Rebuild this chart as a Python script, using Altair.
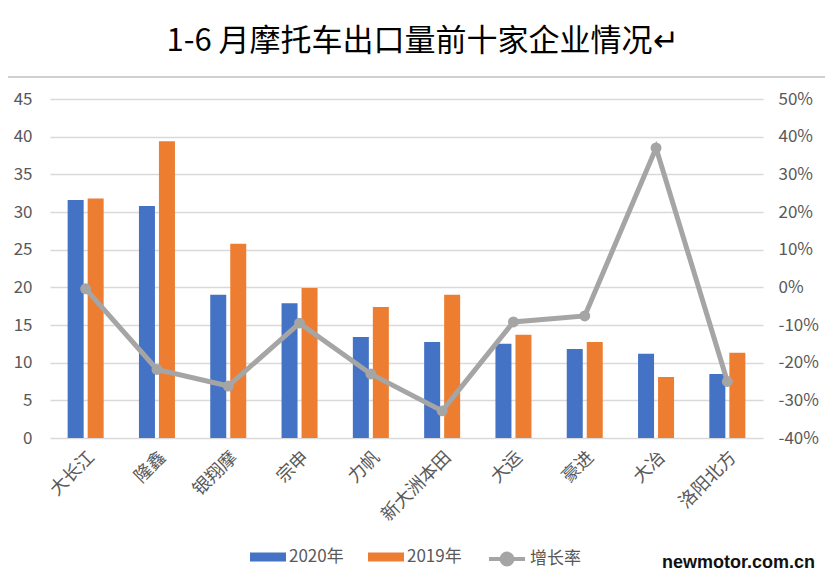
import altair as alt
import pandas as pd

companies = ["大长江", "隆鑫", "银翔摩", "宗申", "力帆", "新大洲本田", "大运", "豪进", "大冶", "洛阳北方"]
v2020 = [31.6, 30.8, 19.0, 17.9, 13.4, 12.75, 12.5, 11.8, 11.2, 8.5]
v2019 = [31.8, 39.4, 25.8, 19.9, 17.4, 19.0, 13.7, 12.75, 8.1, 11.3]
growth = [-0.004, -0.218, -0.262, -0.095, -0.23, -0.328, -0.092, -0.076, 0.37, -0.25]
bar_series = ["2020年", "2019年"]
bar_colors = ["#4472C4", "#ED7D31"]
line_series = ["增长率"]
line_colors = ["#A5A5A5"]
left_ticks = [0, 5, 10, 15, 20, 25, 30, 35, 40, 45]
right_ticks = [-0.4, -0.3, -0.2, -0.1, 0.0, 0.1, 0.2, 0.3, 0.4, 0.5]
title_text = "1-6 月摩托车出口量前十家企业情况↵"
watermark = "newmotor.com.cn"

FONT = "Noto Sans CJK SC"
GRAY_TXT = "#595959"

bars_df = pd.DataFrame({
    "company": companies * 2,
    "series": [bar_series[0]] * len(companies) + [bar_series[1]] * len(companies),
    "value": v2020 + v2019,
})
line_df = pd.DataFrame({"company": companies, "rate": growth, "series": line_series * len(companies)})

x_enc = alt.X(
    "company:N", sort=companies, title=None,
    scale=alt.Scale(paddingInner=0.495, paddingOuter=0.2475),
    axis=alt.Axis(labelAngle=-45, labelFontSize=18, labelColor=GRAY_TXT, labelFont=FONT,
                  domain=False, ticks=False, labelPadding=10, grid=False),
)

bar_legend = alt.Legend(
    orient="none", legendX=200, legendY=440, direction="horizontal", title=None,
    padding=0, symbolSize=1296, symbolType="M-1,-0.25L1,-0.25L1,0.25L-1,0.25Z",
    symbolStrokeWidth=0, symbolOpacity=1,
    labelFontSize=17, labelColor=GRAY_TXT, labelFont=FONT, labelOffset=3, columnPadding=24,
)
line_legend = alt.Legend(
    orient="none", legendX=437, legendY=440, direction="horizontal", title=None,
    padding=0, symbolSize=1296,
    symbolType="M-1,0L1,0M-0.3,0A0.3,0.3 0 1,1 0.3,0A0.3,0.3 0 1,1 -0.3,0Z",
    symbolStrokeWidth=4, symbolFillColor="#A5A5A5", symbolStrokeColor="#A5A5A5", symbolOpacity=1,
    labelFontSize=17, labelColor=GRAY_TXT, labelFont=FONT, labelOffset=3,
)

bars = alt.Chart(bars_df).mark_bar().encode(
    x=x_enc,
    xOffset=alt.XOffset("series:N", sort=bar_series, scale=alt.Scale(paddingInner=0.2)),
    y=alt.Y("value:Q", title=None, scale=alt.Scale(domain=[0, 45], nice=False),
            axis=alt.Axis(values=left_ticks, orient="left", domain=False, ticks=False,
                          labelFontSize=17, labelColor=GRAY_TXT, labelFont=FONT, labelPadding=18,
                          grid=True, gridColor="#d9d9d9", gridWidth=1.5)),
    color=alt.Color("series:N", sort=bar_series,
                    scale=alt.Scale(domain=bar_series, range=bar_colors), legend=bar_legend),
)

line = alt.Chart(line_df).mark_line(
    strokeWidth=5,
    point=alt.OverlayMarkDef(filled=True, size=120, color="#A5A5A5"),
).encode(
    x=alt.X("company:N", sort=companies),
    y=alt.Y("rate:Q", title=None, scale=alt.Scale(domain=[-0.4, 0.5], nice=False),
            axis=alt.Axis(values=right_ticks, orient="right", domain=False, ticks=False, grid=False,
                          labelFontSize=17, labelColor=GRAY_TXT, labelFont=FONT, labelPadding=15,
                          labelExpr="replace(format(datum.value, '.0%'), '\u2212', '-')")),
    color=alt.Color("series:N", scale=alt.Scale(domain=line_series, range=line_colors), legend=line_legend),
)

frame = alt.Chart(pd.DataFrame({"a": [0]})).mark_rect(
    fillOpacity=0, stroke="#d0d0d0", strokeWidth=2
).encode(x=alt.value(-50), x2=alt.value(779), y=alt.value(-22), y2=alt.value(700))

mark_wm = alt.Chart(pd.DataFrame({"t": [watermark]})).mark_text(
    align="right", baseline="middle", fontSize=18, font="Liberation Sans", fontWeight="bold", color="#111111"
).encode(text="t:N", x=alt.value(765), y=alt.value(464))

chart = alt.layer(frame, bars, line, mark_wm).resolve_scale(y="independent", color="independent").properties(
    width=713, height=339,
    autosize=alt.AutoSizeParams(type="none"),
    padding={"left": 42, "top": 91, "right": 62, "bottom": 138},
    title=alt.TitleParams(title_text, fontSize=31, font=FONT, fontWeight="normal", color="#000000",
                          anchor="middle", offset=18, dx=16),
).configure_view(stroke=None)

chart.save("out.html", embed_options={"renderer": "svg", "actions": False})
